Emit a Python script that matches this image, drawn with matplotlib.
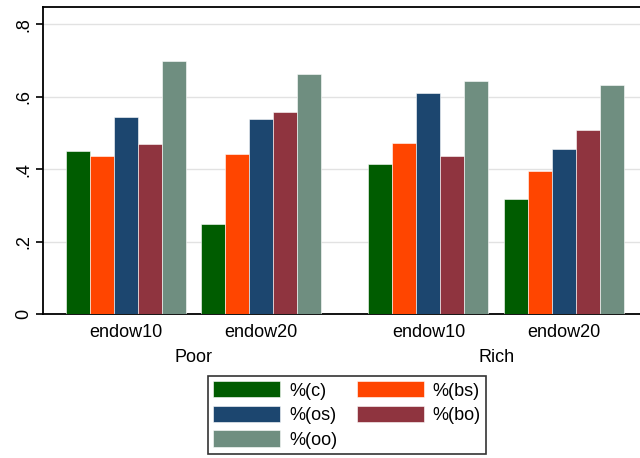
import numpy as np
import matplotlib.pyplot as plt

plt.rcParams['font.family'] = ['Liberation Sans', 'DejaVu Sans']

series = ['%(c)', '%(bs)', '%(os)', '%(bo)', '%(oo)']
colors = ['#005c00', '#ff4500', '#1c466f', '#8f343f', '#6f8e80']
groups = ['endow10', 'endow20', 'endow10', 'endow20']
supergroups = ['Poor', 'Rich']

# rows: Poor endow10, Poor endow20, Rich endow10, Rich endow20
pc = [0.450, 0.248, 0.414, 0.317]
pbs = [0.436, 0.441, 0.472, 0.394]
pos_ = [0.543, 0.538, 0.610, 0.455]
pbo = [0.469, 0.557, 0.436, 0.508]
poo = [0.698, 0.662, 0.643, 0.632]
values = [pc, pbs, pos_, pbo, poo]

fig = plt.figure(figsize=(6.4, 4.58), dpi=100)
ax = fig.add_axes([43/640, 144/458, 604/640, 307/458])

# group start positions (bar width = 1)
starts = np.array([0, 5.625, 12.6, 18.25])
handles = []
for i, (vals, col) in enumerate(zip(values, colors)):
    b = ax.bar(starts + i + 0.5, vals, width=1.0, color=col,
               edgecolor='white', linewidth=0.4, zorder=3)
    handles.append(b)

ax.set_xlim(-0.96, starts[-1] + 5 + 0.96)
ax.set_ylim(0, 0.848)
ax.set_yticks([0, 0.2, 0.4, 0.6, 0.8])
ax.set_yticklabels(['0', '.2', '.4', '.6', '.8'], rotation=90, va='center',
                   fontsize=13)
ax.yaxis.grid(True, color='#e2e2e2', linewidth=1.0, zorder=0)
ax.set_axisbelow(True)
ax.tick_params(axis='y', length=5, width=1.2, pad=3)

ax.set_xticks(starts + 2.5)
ax.set_xticklabels(groups, fontsize=13)
ax.tick_params(axis='x', length=0, pad=7)

for i, name in enumerate(supergroups):
    cx = (starts[2*i] + starts[2*i + 1] + 5) / 2
    ax.text(cx, -0.143, name, transform=ax.get_xaxis_transform(),
            ha='center', va='center', fontsize=13)

for s in ['left', 'bottom', 'top']:
    ax.spines[s].set_linewidth(1.3)
ax.spines['right'].set_visible(False)

leg = fig.legend([handles[0], handles[2], handles[4], handles[1], handles[3]],
                 [series[0], series[2], series[4], series[1], series[3]],
                 ncol=2, loc='center', bbox_to_anchor=(347/640, 1 - 415/458),
                 fontsize=13, frameon=True, fancybox=False, edgecolor='black',
                 handlelength=3.7, handleheight=1.0, labelspacing=0.35,
                 columnspacing=1.1, handletextpad=0.5, borderpad=0.3)
leg.get_frame().set_linewidth(1.2)

fig.savefig('out.png', dpi=100)
